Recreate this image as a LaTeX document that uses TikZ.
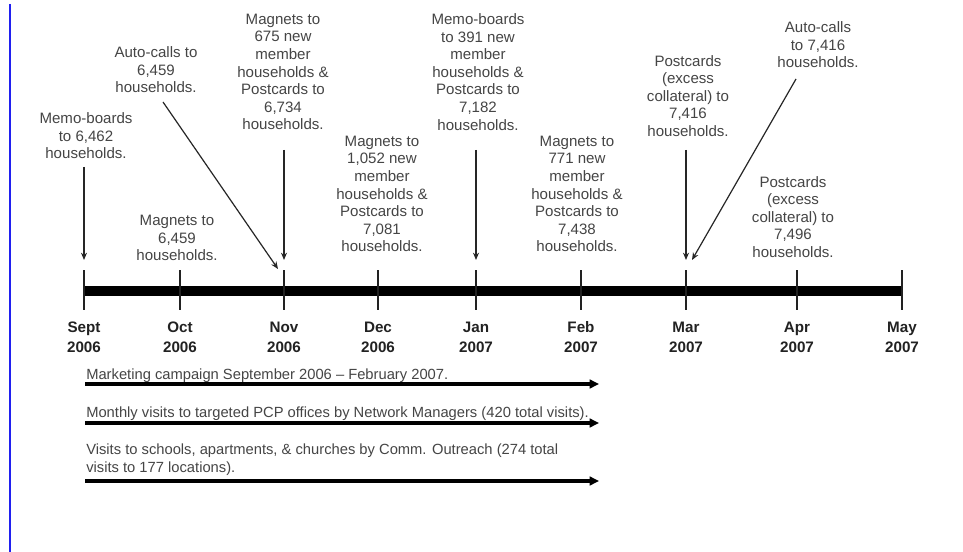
\documentclass[tikz,border=0pt]{standalone}
\usepackage{fontspec}
\setmainfont{Liberation Sans}
\usetikzlibrary{arrows.meta}
\definecolor{txtgray}{HTML}{454545}
\definecolor{axgray}{HTML}{222222}
\definecolor{edgeblue}{HTML}{2020F0}
\begin{document}
\begin{tikzpicture}[x=0.75pt,y=-0.75pt,
  lbl/.style={align=center,text=txtgray,inner sep=0pt,font=\fontsize{11.3}{13.2}\selectfont},
  mon/.style={align=center,text=axgray,inner sep=0pt,font=\bfseries\fontsize{11.4}{15}\selectfont},
  bot/.style={align=left,text=txtgray,inner sep=0pt,anchor=base west,font=\fontsize{11.05}{13.2}\selectfont},
  tick/.style={draw=axgray,line width=0.9pt},
  arr/.style={draw=black!85,line width=0.9pt,-{Stealth[length=5.5pt,width=4.5pt]}},
  barr/.style={draw=black,line width=2.3pt,-{Triangle[length=7pt,width=6.5pt]}}]
\useasboundingbox (0,0) rectangle (963,552);
\fill[white] (0,0) rectangle (963,552);
% left blue rule
\draw[edgeblue,line width=1.5pt] (10,4) -- (10,552);
% timeline bar
\coordinate (barL) at (84,291);
\coordinate (barR) at (902,291);
\draw[black,line width=6.8pt] (barL) -- (barR);
% ticks and month labels
\foreach \x/\n/\m/\y in {84/sep/Sept/2006,180/oct/Oct/2006,284/nov/Nov/2006,378/dec/Dec/2006,476/jan/Jan/2007,581/feb/Feb/2007,686/mar/Mar/2007,797/apr/Apr/2007,902/may/May/2007}{
  \coordinate (t\n) at (\x,270);
  \coordinate (b\n) at (\x,310);
  \draw[tick] (t\n) -- (b\n);
  \node[mon] (m\n) at (\x,337) {\m\\\y};
}
% labels above the timeline
\node[lbl] (lSep) at (86,136) {Memo-boards\\to 6,462\\households.};
\node[lbl] (lAuto1) at (156,70) {Auto-calls to\\6,459\\households.};
\node[lbl] (lOct) at (177,238) {Magnets to\\6,459\\households.};
\node[lbl] (lNov) at (283,72) {Magnets to\\675 new\\member\\households \&\\Postcards to\\6,734\\households.};
\node[lbl] (lDec) at (382,194) {Magnets to\\1,052 new\\member\\households \&\\Postcards to\\7,081\\households.};
\node[lbl] (lJan) at (478,72) {Memo-boards\\to 391 new\\member\\households \&\\Postcards to\\7,182\\households.};
\node[lbl] (lFeb) at (577,194) {Magnets to\\771 new\\member\\households \&\\Postcards to\\7,438\\households.};
\node[lbl] (lMar) at (688,96) {Postcards\\(excess\\collateral) to\\7,416\\households.};
\node[lbl] (lAuto2) at (818,45) {Auto-calls\\to 7,416\\households.};
\node[lbl] (lApr) at (793,217) {Postcards\\(excess\\collateral) to\\7,496\\households.};
% arrow end points
\coordinate (sSep) at (84,167);  \coordinate (eSep) at (84,260);
\coordinate (sNov) at (284,150); \coordinate (eNov) at (284,260);
\coordinate (sJan) at (476,150); \coordinate (eJan) at (476,260);
\coordinate (sMar) at (686,150); \coordinate (eMar) at (686,260);
\coordinate (sA1) at (163,102);  \coordinate (eA1) at (278,269);
\coordinate (sA2) at (796,79);   \coordinate (eA2) at (692,260);
\draw[arr] (sSep) -- (eSep);
\draw[arr] (sNov) -- (eNov);
\draw[arr] (sJan) -- (eJan);
\draw[arr] (sMar) -- (eMar);
\draw[arr] (sA1) -- (eA1);
\draw[arr] (sA2) -- (eA2);
% bottom campaign bars
\node[bot] (c1) at (86,379) {Marketing campaign September 2006 -- February 2007.};
\node[bot] (c2) at (86,417) {Monthly visits to targeted PCP offices by Network Managers (420 total visits).};
\node[bot,anchor=north west] (c3) at (86,444) {Visits to schools, apartments, \& churches by Comm. Outreach (274 total\\visits to 177 locations).};
\coordinate (c1L) at (85,384); \coordinate (c1R) at (599,384);
\coordinate (c2L) at (85,423); \coordinate (c2R) at (599,423);
\coordinate (c3L) at (85,481); \coordinate (c3R) at (599,481);
\draw[barr] (c1L) -- (c1R);
\draw[barr] (c2L) -- (c2R);
\draw[barr] (c3L) -- (c3R);
\end{tikzpicture}
\end{document}
